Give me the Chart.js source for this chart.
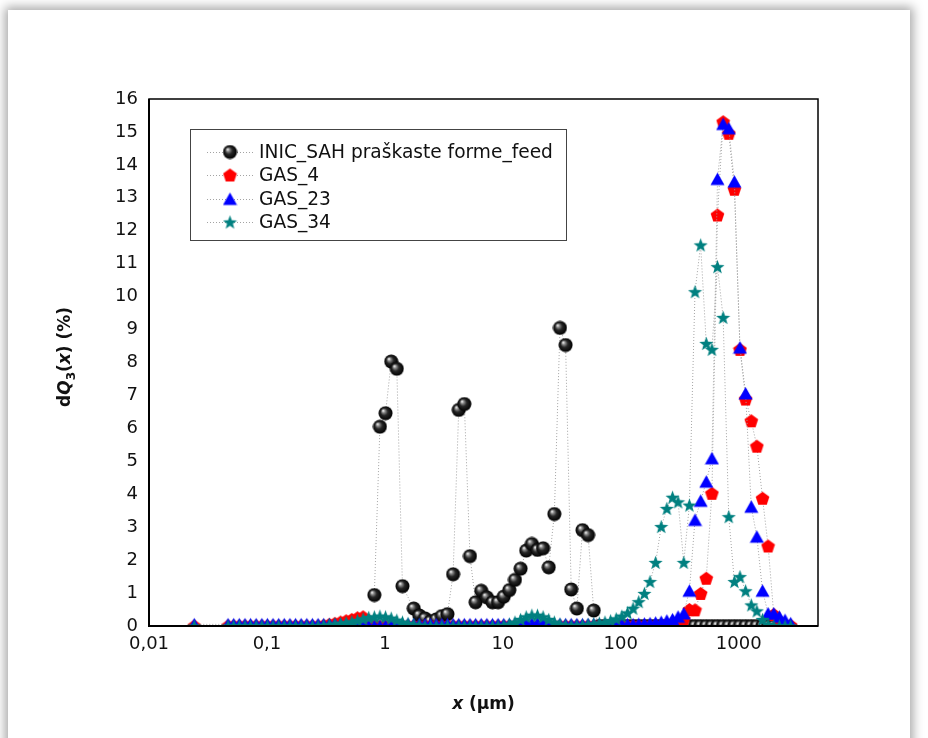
<!DOCTYPE html>
<html>
<head>
<meta charset="utf-8">
<script src="https://cdn.jsdelivr.net/npm/chart.js@4.4.1/dist/chart.umd.min.js"></script>
<style>
  html, body { margin: 0; padding: 0; background: #fff; }
  body { width: 928px; height: 738px; overflow: hidden; position: relative; }
  .frame { position: absolute; left: 8px; top: 10px; width: 902px; height: 760px; background: #fff; box-shadow: 0 0 10px 3px rgba(0,0,0,0.35); }
  #chart { position: absolute; left: 0; top: 0; }
</style>
</head>
<body>
<div class="frame"></div>
<canvas id="chart" width="928" height="738"></canvas>
<script>
// particle size classes (um), shared by all series
const sizes = [
  0.0242,
  0.0468, 0.0522, 0.0583, 0.0651, 0.0726, 0.0810, 0.0905, 0.1009, 0.1126, 0.1257,
  0.1403, 0.1566, 0.1748, 0.1951, 0.2177, 0.2430, 0.2713, 0.3027, 0.3379, 0.3771,
  0.4209, 0.4697, 0.5243, 0.5852, 0.6531, 0.7289, 0.8136, 0.9078, 1.013, 1.131,
  1.262, 1.409, 1.572, 1.755, 1.958, 2.186, 2.439, 2.723, 3.039, 3.392,
  3.786, 4.226, 4.716, 5.264, 5.875, 6.557, 7.318, 8.166, 9.115, 10.17,
  11.35, 12.67, 14.14, 15.79, 17.62, 19.66, 21.94, 24.49, 27.34, 30.51,
  34.05, 38.00, 42.42, 47.34, 52.84, 58.97, 65.82, 73.46, 81.99, 91.51,
  102.1, 114.0, 127.2, 142.0, 158.5, 176.9, 197.4, 220.3, 245.9, 274.5,
  306.3, 341.9, 381.6, 425.9, 475.4, 530.6, 592.2, 660.7, 737.5, 823.1,
  918.7, 1025, 1144, 1277, 1425, 1591, 1775, 1982, 2212, 2469,
  2755
];

const inicFeed = [
  null,
  null, null, null, null, null, null, null, null, null, null,
  null, null, null, null, null, null, null, null, null, null,
  null, null, null, null, null, null, 0.94, 6.05, 6.46, 8.03,
  7.81, 1.21, null, 0.53, 0.32, 0.23, 0.14, 0.20, 0.30, 0.36,
  1.57, 6.56, 6.74, 2.12, 0.72, 1.07, 0.87, 0.72, 0.72, 0.89,
  1.09, 1.40, 1.74, 2.29, 2.49, 2.31, 2.36, 1.78, 3.40, 9.05,
  8.53, 1.11, 0.53, 2.91, 2.76, 0.47, 0, 0, 0, 0,
  0, 0, 0, 0, 0, 0, 0, 0, 0, 0,
  0, 0, 0, 0, 0, 0, 0, 0, 0, 0,
  0, 0, 0, 0, 0, 0, 0, 0, null, null,
  null
];

const gas4 = [
  0,
  0, 0, 0, 0, 0, 0, 0, 0, 0, 0,
  0, 0, 0, 0, 0, 0, 0, 0.02, 0.05, 0.08,
  0.12, 0.16, 0.20, 0.25, 0.28, 0.15, 0.05, 0, 0, 0,
  0, 0, 0, 0, 0, 0, 0, 0, 0, 0,
  0, 0, 0, 0, 0, 0, 0, 0, 0, 0,
  0, 0, 0, 0, 0, 0, 0, 0, 0, 0,
  0, 0, 0, 0, 0, 0, 0, 0, 0, 0,
  0, 0, 0, 0, 0, 0, 0, 0.02, 0.04, 0.07,
  0.12, 0.22, 0.50, 0.49, 0.99, 1.45, 4.03, 12.48, 15.31, 14.96,
  13.26, 8.40, 6.89, 6.23, 5.46, 3.88, 2.43, 0.35, 0.15, 0.05,
  0.02
];

const gas23 = [
  0.05,
  0.05, 0.05, 0.05, 0.05, 0.05, 0.05, 0.05, 0.05, 0.05, 0.05,
  0.05, 0.05, 0.05, 0.05, 0.05, 0.05, 0.05, 0.05, 0.05, 0.05,
  0.05, 0.04, 0.01, 0, 0, 0, 0, 0, 0, 0.01,
  0.03, 0.05, 0.05, 0.05, 0.05, 0.05, 0.05, 0.05, 0.05, 0.05,
  0.05, 0.05, 0.05, 0.05, 0.05, 0.05, 0.05, 0.05, 0.05, 0.05,
  0.05, 0.06, 0.07, 0.08, 0.08, 0.08, 0.07, 0.06, 0.05, 0.05,
  0.05, 0.05, 0.05, 0.05, 0.05, 0.05, 0.05, 0.05, 0.05, 0.05,
  0.05, 0.05, 0.05, 0.06, 0.07, 0.08, 0.10, 0.12, 0.16, 0.20,
  0.28, 0.38, 1.07, 3.22, 3.80, 4.38, 5.09, 13.57, 15.24, 15.11,
  13.49, 8.45, 7.06, 3.62, 2.71, 1.07, 0.38, 0.38, 0.28, 0.18,
  0.08
];

const gas34 = [
  0,
  0, 0, 0, 0, 0, 0, 0, 0, 0, 0,
  0, 0, 0, 0, 0, 0, 0, 0.02, 0.04, 0.06,
  0.08, 0.10, 0.13, 0.17, 0.22, 0.26, 0.28, 0.30, 0.28, 0.24,
  0.18, 0.12, 0.08, 0.05, 0.03, 0, 0, 0, 0, 0,
  0, 0, 0, 0, 0, 0, 0, 0, 0, 0.02,
  0.06, 0.12, 0.20, 0.28, 0.33, 0.33, 0.28, 0.20, 0.12, 0.06,
  0.03, 0.02, 0.02, 0.03, 0.05, 0.07, 0.09, 0.12, 0.16, 0.22,
  0.30, 0.40, 0.54, 0.74, 0.99, 1.35, 1.93, 3.02, 3.57, 3.91,
  3.77, 1.93, 3.67, 10.15, 11.57, 8.58, 8.40, 10.91, 9.37, 3.32,
  1.35, 1.50, 1.07, 0.64, 0.46, 0.20, 0.05, 0, 0, 0,
  0
];

const seriesNames = ['INIC_SAH praškaste forme_feed', 'GAS_4', 'GAS_23', 'GAS_34'];
const xTicks = [0.01, 0.1, 1, 10, 100, 1000];
const xTickLabels = ['0,01', '0,1', '1', '10', '100', '1000'];

const FONT = "'DejaVu Sans', Verdana, sans-serif";

// marker images, drawn once on small canvases
function makeMarker(kind) {
  const c = document.createElement('canvas');
  const size = 15;
  c.width = size; c.height = size;
  const g = c.getContext('2d');
  const m = size / 2;
  g.beginPath();
  if (kind === 'sphere') {
    const r = 7;
    const grad = g.createRadialGradient(m - 2.5, m - 2.7, 0.3, m, m, r);
    grad.addColorStop(0, '#f6f6f6');
    grad.addColorStop(0.2, '#8c8c8c');
    grad.addColorStop(0.5, '#262626');
    grad.addColorStop(1, '#000');
    g.fillStyle = grad;
    g.arc(m, m, r, 0, Math.PI * 2);
  } else if (kind === 'pentagon') {
    g.fillStyle = '#ff0000';
    for (let i = 0; i < 5; i++) {
      const a = -Math.PI / 2 + i * 2 * Math.PI / 5;
      g.lineTo(m + 7.2 * Math.cos(a), m + 0.6 + 7.2 * Math.sin(a));
    }
  } else if (kind === 'triangle') {
    g.fillStyle = '#0000ff';
    g.moveTo(m, 1);
    g.lineTo(size - 0.5, size - 1.5);
    g.lineTo(0.5, size - 1.5);
  } else {
    g.fillStyle = '#008080';
    for (let i = 0; i < 10; i++) {
      const a = -Math.PI / 2 + i * Math.PI / 5;
      const r = i % 2 === 0 ? 7.4 : 3.1;
      g.lineTo(m + r * Math.cos(a), m + 0.7 + r * Math.sin(a));
    }
  }
  g.closePath();
  g.fill();
  return c;
}

const markers = [makeMarker('sphere'), makeMarker('pentagon'), makeMarker('triangle'), makeMarker('star')];

function toPoints(ys) {
  return sizes.map((x, i) => ({ x: x, y: ys[i] })).filter(p => p.y !== null);
}

function makeDataset(i, ys, order) {
  return {
    label: seriesNames[i],
    data: toPoints(ys),
    showLine: true,
    borderColor: '#a3a3a3',
    borderWidth: 1,
    borderDash: [1, 2],
    pointStyle: markers[i],
    pointRadius: 6,
    pointHoverRadius: 6,
    clip: 0,
    order: order
  };
}

// text made of pieces with mixed bold / italic / subscript
function drawRich(ctx, parts, x, y, size) {
  let total = 0;
  parts.forEach(p => {
    ctx.font = (p.italic ? 'italic ' : '') + 'bold ' + Math.round(size * (p.sub ? 0.68 : 1)) + 'px ' + FONT;
    p.w = ctx.measureText(p.t).width;
    total += p.w;
  });
  let cx = x - total / 2;
  parts.forEach(p => {
    ctx.font = (p.italic ? 'italic ' : '') + 'bold ' + Math.round(size * (p.sub ? 0.68 : 1)) + 'px ' + FONT;
    ctx.fillText(p.t, cx, y + (p.sub ? size * 0.28 : 0));
    cx += p.w;
  });
}

const decor = {
  id: 'decor',
  afterDatasetsDraw(chart) {
    const ctx = chart.ctx;
    const a = chart.chartArea;
    ctx.save();
    // plot frame
    ctx.strokeStyle = '#000';
    ctx.lineWidth = 1.5;
    ctx.strokeRect(a.left, a.top, a.right - a.left, a.bottom - a.top);
    ctx.lineWidth = 2;
    ctx.beginPath();
    ctx.moveTo(a.left, a.top);
    ctx.lineTo(a.left, a.bottom);
    ctx.lineTo(a.right, a.bottom);
    ctx.stroke();

    // axis titles
    ctx.fillStyle = '#111';
    ctx.textBaseline = 'alphabetic';
    ctx.textAlign = 'left';
    drawRich(ctx, [
      { t: 'x', italic: true },
      { t: ' (' },
      { t: 'μ' },
      { t: 'm)' }
    ], (a.left + a.right) / 2, 709, 17);

    ctx.save();
    ctx.translate(70, 357);
    ctx.rotate(-Math.PI / 2);
    drawRich(ctx, [
      { t: 'd' },
      { t: 'Q', italic: true },
      { t: '3', sub: true },
      { t: '(' },
      { t: 'x', italic: true },
      { t: ') (%)' }
    ], 0, 0, 17);
    ctx.restore();

    // legend box
    ctx.fillStyle = '#fff';
    ctx.fillRect(190, 129, 376, 111);
    ctx.strokeStyle = '#444';
    ctx.lineWidth = 1;
    ctx.strokeRect(190.5, 129.5, 376, 111);
    const rows = [152, 175, 199, 222];
    ctx.font = '18.6px ' + FONT;
    ctx.textBaseline = 'middle';
    seriesNames.forEach((name, i) => {
      const y = rows[i];
      ctx.strokeStyle = '#a3a3a3';
      ctx.setLineDash([1, 2]);
      ctx.beginPath();
      ctx.moveTo(207, y + 0.5);
      ctx.lineTo(254, y + 0.5);
      ctx.stroke();
      ctx.setLineDash([]);
      const mk = markers[i];
      ctx.drawImage(mk, 230 - mk.width / 2, y - mk.height / 2);
      ctx.fillStyle = '#111';
      ctx.fillText(name, 259, y + 1);
    });
    ctx.restore();
  }
};

new Chart(document.getElementById('chart'), {
  type: 'scatter',
  data: {
    datasets: [
      makeDataset(0, inicFeed, 4),
      makeDataset(1, gas4, 3),
      makeDataset(2, gas23, 2),
      makeDataset(3, gas34, 1)
    ]
  },
  options: {
    responsive: false,
    animation: false,
    layout: { padding: { top: 99, right: 110, bottom: 72, left: 0 } },
    plugins: {
      legend: { display: false },
      tooltip: { enabled: false }
    },
    scales: {
      x: {
        type: 'logarithmic',
        min: 0.01,
        max: 4700,
        grid: { display: false, drawTicks: false },
        border: { display: false },
        afterBuildTicks: s => { s.ticks = xTicks.map(v => ({ value: v })); },
        afterFit: s => { s.height = 40; },
        ticks: {
          autoSkip: false,
          maxRotation: 0,
          padding: 8,
          color: '#111',
          font: { family: FONT, size: 18 },
          callback: (v, i) => xTickLabels[i]
        }
      },
      y: {
        min: 0,
        max: 16,
        grid: { display: false, drawTicks: false },
        border: { display: false },
        afterFit: s => { s.width = 149; },
        ticks: {
          stepSize: 1,
          padding: 11,
          color: '#111',
          font: { family: FONT, size: 18 }
        }
      }
    }
  },
  plugins: [decor]
});
</script>
</body>
</html>
